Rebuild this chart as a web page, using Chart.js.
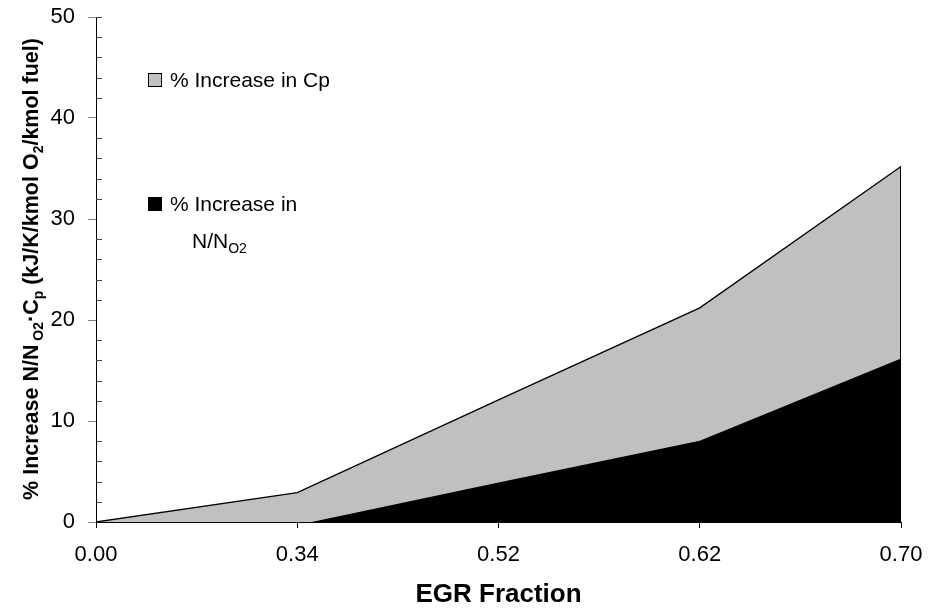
<!DOCTYPE html>
<html>
<head>
<meta charset="utf-8">
<script src="https://cdn.jsdelivr.net/npm/chart.js@4"></script>
<style>
  html, body { margin: 0; padding: 0; background: #fff; }
  #wrap { width: 928px; height: 609px; }
</style>
</head>
<body>
<div id="wrap"><canvas id="chart"></canvas></div>
<script>
const egrLabels = ["0.00", "0.34", "0.52", "0.62", "0.70"];
// top edge of the grey area (N/NO2 + Cp increase)
const totalIncrease = [0, 2.9, 12.1, 21.2, 35.2];
// black area (% increase in N/NO2)
const nIncrease = [0, -0.3, 3.9, 8.05, 16.2];
const yTicks = [0, 10, 20, 30, 40, 50];

const FONT = "'Liberation Sans', Arial, sans-serif";

function drawRich(ctx, parts, x, y, size, bold) {
  // parts: [text, isSub]
  let cx = x;
  parts.forEach(([t, sub]) => {
    const s = sub ? Math.round(size * 0.65) : size;
    ctx.font = (bold ? "bold " : "") + s + "px " + FONT;
    ctx.fillText(t, cx, sub ? y + size * 0.22 : y);
    cx += ctx.measureText(t).width;
  });
  return cx - x;
}

function richWidth(ctx, parts, size, bold) {
  let w = 0;
  parts.forEach(([t, sub]) => {
    const s = sub ? Math.round(size * 0.65) : size;
    ctx.font = (bold ? "bold " : "") + s + "px " + FONT;
    w += ctx.measureText(t).width;
  });
  return w;
}

const extras = {
  id: "extras",
  afterDraw(chart) {
    const ctx = chart.ctx;
    const x = chart.scales.x, y = chart.scales.y;
    ctx.save();
    ctx.fillStyle = "#000";
    ctx.textBaseline = "alphabetic";

    // minor ticks inside the y axis
    ctx.strokeStyle = "#404040";
    ctx.lineWidth = 1;
    for (let v = 2; v <= 50; v += 2) {
      if (v % 10 === 0 && v !== 50) continue;
      const py = Math.round(y.getPixelForValue(v)) + 0.5;
      ctx.beginPath();
      ctx.moveTo(x.left, py);
      ctx.lineTo(x.left + 6, py);
      ctx.stroke();
    }

    // right edge of the area
    ctx.strokeStyle = "#000";
    const last = totalIncrease.length - 1;
    const rx = Math.round(x.getPixelForValue(last)) - 0.5;
    ctx.beginPath();
    ctx.moveTo(rx, y.getPixelForValue(totalIncrease[last]));
    ctx.lineTo(rx, y.bottom);
    ctx.stroke();

    // x title
    ctx.font = "bold 26px " + FONT;
    ctx.textAlign = "center";
    ctx.fillText("EGR Fraction", (x.left + x.right) / 2, 602);

    // y title, rotated
    const yParts = [["% Increase N/N", false], [" O2", true], ["·C", false], ["p", true],
      [" (kJ/K/kmol O", false], ["2", true], ["/kmol fuel)", false]];
    ctx.textAlign = "left";
    const ts = 21.5;
    const w = richWidth(ctx, yParts, ts, true);
    ctx.save();
    ctx.translate(38, 269);
    ctx.rotate(-Math.PI / 2);
    drawRich(ctx, yParts, -w / 2, 0, ts, true);
    ctx.restore();

    // legend
    ctx.fillStyle = "#c0c0c0";
    ctx.fillRect(148.5, 73.5, 13, 13);
    ctx.strokeRect(148.5, 73.5, 13, 13);
    ctx.fillStyle = "#000";
    ctx.fillRect(148, 197, 14, 14);
    ctx.font = "21px " + FONT;
    ctx.fillText("% Increase in Cp", 170, 87);
    ctx.fillText("% Increase in", 170, 211);
    drawRich(ctx, [["N/N", false], ["O2", true]], 192, 248, 21, false);
    ctx.restore();
  }
};

new Chart(document.getElementById("chart"), {
  type: "line",
  data: {
    labels: egrLabels,
    datasets: [
      {
        label: "% Increase in N/NO2",
        data: nIncrease,
        fill: "origin",
        backgroundColor: "#000",
        borderColor: "#000",
        borderWidth: 0,
        pointRadius: 0,
        order: 0
      },
      {
        label: "% Increase in Cp",
        data: totalIncrease,
        fill: "origin",
        backgroundColor: "#c0c0c0",
        borderColor: "#000",
        borderWidth: 1.3,
        pointRadius: 0,
        order: 1
      }
    ]
  },
  options: {
    responsive: true,
    maintainAspectRatio: false,
    animation: false,
    layout: { padding: { top: 17, right: 27, left: 0, bottom: 0 } },
    plugins: { legend: { display: false }, tooltip: { enabled: false } },
    elements: { line: { tension: 0 } },
    scales: {
      x: {
        type: "category",
        offset: false,
        afterFit(s) { s.height = 87; s.paddingLeft = 0; s.paddingRight = 0; },
        grid: { drawOnChartArea: false, drawTicks: true, tickLength: 6, color: "#000" },
        border: { color: "#000", width: 1 },
        ticks: { color: "#000", font: { family: FONT, size: 22 }, padding: 14, maxRotation: 0, autoSkip: false }
      },
      y: {
        min: 0,
        max: 50,
        afterFit(s) { s.width = 96; s.paddingTop = 0; s.paddingBottom = 0; },
        afterBuildTicks(s) { s.ticks = yTicks.map(v => ({ value: v })); },
        grid: { drawOnChartArea: false, drawTicks: true, tickLength: 8, color: "#808080" },
        border: { color: "#000", width: 1 },
        ticks: { color: "#000", font: { family: FONT, size: 22 }, padding: 13 }
      }
    }
  },
  plugins: [extras]
});
</script>
</body>
</html>
